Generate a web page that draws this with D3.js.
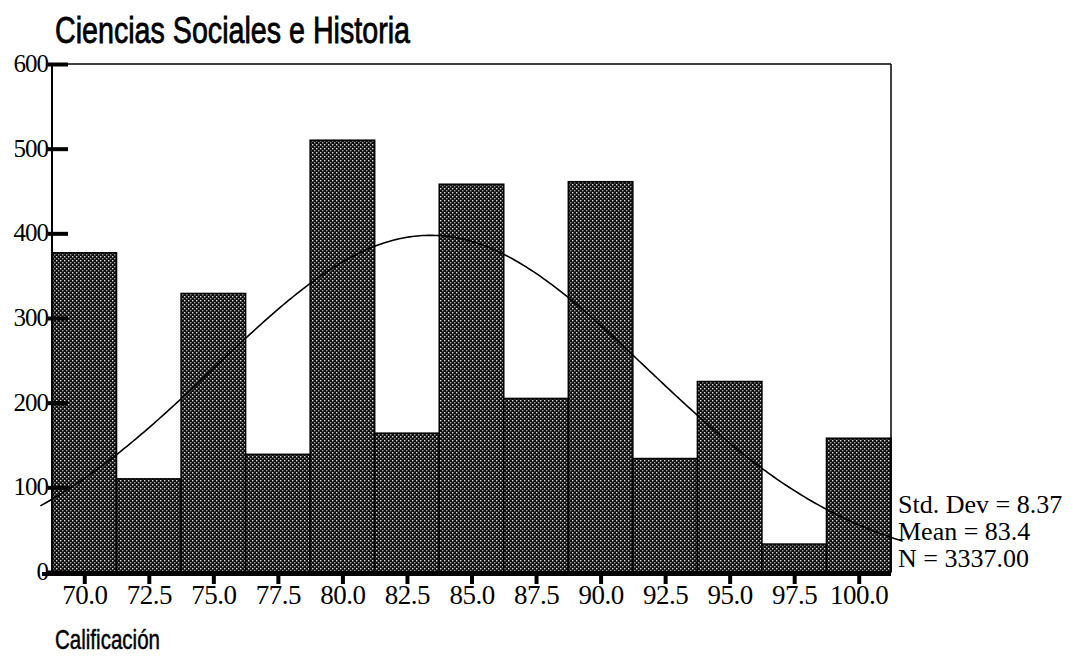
<!DOCTYPE html>
<html>
<head>
<meta charset="utf-8">
<script src="https://cdn.jsdelivr.net/npm/d3@7"></script>
<style>
    body { margin: 0; background: #fff; }
    svg { display: block; }
</style>
</head>
<body>
<div id="chart"></div>
<script>
// histogram bins (midpoints) and counts
var binMids = [70.0, 72.5, 75.0, 77.5, 80.0, 82.5, 85.0, 87.5, 90.0, 92.5, 95.0, 97.5, 100.0];
var counts = [377, 110, 329, 139, 510, 164, 458, 205, 461, 134, 225, 33, 158];
var xTickLabels = ['70.0', '72.5', '75.0', '77.5', '80.0', '82.5', '85.0', '87.5', '90.0', '92.5', '95.0', '97.5', '100.0'];
var yTicks = [0, 100, 200, 300, 400, 500, 600];
var statsLines = ['Std. Dev = 8.37', 'Mean = 83.4', 'N = 3337.00'];
var stdDev = 8.37, mean = 83.4, n = 3337, binWidth = 2.5;

(function () {
    var width = 1080, height = 660;
    var plotLeft = 52, plotRight = 891, plotTop = 64, plotBottom = 572;
    var serif = 'Liberation Serif, Times New Roman, serif';
    var narrow = 'Liberation Sans Narrow, Liberation Sans, Arial, sans-serif';

    var svg = d3.select('#chart').append('svg')
        .attr('width', width)
        .attr('height', height);

    // stippled fill like the scanned print
    var pat = svg.append('defs').append('pattern')
        .attr('id', 'dots')
        .attr('patternUnits', 'userSpaceOnUse')
        .attr('width', 4)
        .attr('height', 4);
    pat.append('rect').attr('width', 4).attr('height', 4).attr('fill', '#111');
    pat.append('rect').attr('x', 0).attr('y', 0).attr('width', 1.4).attr('height', 1.4).attr('fill', '#dcdcdc');
    pat.append('rect').attr('x', 2).attr('y', 2).attr('width', 1.4).attr('height', 1.4).attr('fill', '#9c9c9c');

    var x = d3.scaleLinear()
        .domain([binMids[0] - binWidth / 2, binMids[binMids.length - 1] + binWidth / 2])
        .range([plotLeft, plotRight]);

    var y = d3.scaleLinear()
        .domain([0, 600])
        .range([plotBottom, plotTop]);

    // bars
    svg.append('g').selectAll('rect')
        .data(binMids)
        .enter().append('rect')
        .attr('x', function (d) { return x(d - binWidth / 2); })
        .attr('y', function (d, i) { return y(counts[i]); })
        .attr('width', function (d) { return x(d + binWidth / 2) - x(d - binWidth / 2); })
        .attr('height', function (d, i) { return y(0) - y(counts[i]); })
        .attr('fill', 'url(#dots)')
        .attr('stroke', '#000')
        .attr('stroke-width', 1.5);

    // frame: top and right
    svg.append('line')
        .attr('x1', plotLeft).attr('x2', plotRight).attr('y1', plotTop).attr('y2', plotTop)
        .attr('stroke', '#000').attr('stroke-width', 1.5);
    svg.append('line')
        .attr('x1', plotRight).attr('x2', plotRight).attr('y1', plotTop).attr('y2', plotBottom)
        .attr('stroke', '#000').attr('stroke-width', 1.5);

    // y axis: thick ticks pointing into the plot
    var gy = svg.append('g')
        .attr('transform', 'translate(' + (plotLeft - 4) + ',0)')
        .call(d3.axisRight(y).tickValues(yTicks).tickSize(20).tickFormat(''));
    gy.select('.domain').remove();
    gy.selectAll('.tick line').attr('stroke', '#000').attr('stroke-width', 4);
    svg.append('line')
        .attr('x1', plotLeft).attr('x2', plotLeft).attr('y1', plotTop).attr('y2', plotBottom)
        .attr('stroke', '#000').attr('stroke-width', 2);

    svg.append('g').selectAll('text')
        .data(yTicks)
        .enter().append('text')
        .attr('x', 48)
        .attr('y', function (d) { return y(d) + 8; })
        .attr('text-anchor', 'end')
        .attr('font-family', serif)
        .attr('font-size', 25)
        .attr('letter-spacing', -1)
        .text(function (d) { return d; });

    // x axis
    svg.append('line')
        .attr('x1', 42).attr('x2', plotRight).attr('y1', plotBottom + 2).attr('y2', plotBottom + 2)
        .attr('stroke', '#000').attr('stroke-width', 4);

    var gx = svg.append('g')
        .attr('transform', 'translate(0,' + (plotBottom + 2) + ')')
        .call(d3.axisBottom(x)
            .tickValues(binMids)
            .tickSize(10)
            .tickFormat(function (d, i) { return xTickLabels[i]; }));
    gx.select('.domain').remove();
    gx.selectAll('.tick line').attr('stroke', '#000').attr('stroke-width', 4);
    gx.selectAll('.tick text')
        .attr('dy', 0)
        .attr('y', 30)
        .attr('fill', '#000')
        .attr('font-family', serif)
        .attr('font-size', 27)
        .attr('letter-spacing', -0.5);

    // normal curve from the stated stats
    var peak = n * binWidth / (stdDev * Math.sqrt(2 * Math.PI));
    var curveX = d3.range(68.3, 101.75, 0.1);
    svg.append('path')
        .datum(curveX)
        .attr('d', d3.line()
            .x(function (d) { return x(d); })
            .y(function (d) {
                var z = (d - mean) / stdDev;
                return y(peak * Math.exp(-0.5 * z * z));
            }))
        .attr('fill', 'none')
        .attr('stroke', '#000')
        .attr('stroke-width', 1.6);

    // stats block
    svg.append('g').selectAll('text')
        .data(statsLines)
        .enter().append('text')
        .attr('x', 898)
        .attr('y', function (d, i) { return 513 + i * 27; })
        .attr('font-family', serif)
        .attr('font-size', 26)
        .attr('xml:space', 'preserve')
        .text(function (d) { return d; });

    // titles
    svg.append('text')
        .attr('x', 55)
        .attr('y', 43)
        .attr('font-family', narrow)
        .attr('font-size', 37)
        .attr('stroke', '#000')
        .attr('stroke-width', 0.8)
        .attr('textLength', 355)
        .attr('lengthAdjust', 'spacingAndGlyphs')
        .text('Ciencias Sociales e Historia');

    svg.append('text')
        .attr('x', 55)
        .attr('y', 649)
        .attr('font-family', narrow)
        .attr('font-size', 28)
        .attr('stroke', '#000')
        .attr('stroke-width', 0.5)
        .attr('textLength', 105)
        .attr('lengthAdjust', 'spacingAndGlyphs')
        .text('Calificación');
})();
</script>
</body>
</html>
